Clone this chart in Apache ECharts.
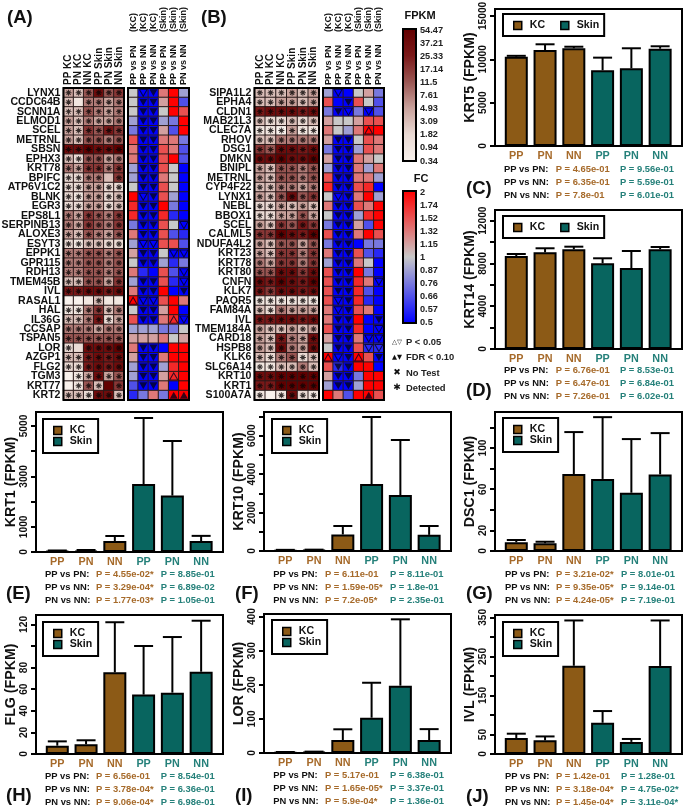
<!DOCTYPE html>
<html><head><meta charset="utf-8">
<style>html,body{margin:0;padding:0;background:#fff}#c{width:685px;height:808px}</style>
<script src="https://cdn.jsdelivr.net/npm/echarts@6/dist/echarts.min.js"></script>
</head><body><div id="c"></div>
<script>
// ---------- DATA ----------
const colsLeft = ['PP KC','PN KC','NN KC','PP Skin','PN Skin','NN Skin'];
const colsRight = ['PP vs PN','PP vs NN','PN vs NN','PP vs PN','PP vs NN','PN vs NN'];
const groupsRight = ['(KC)','(KC)','(KC)','(Skin)','(Skin)','(Skin)'];
const genesA = ['LYNX1','CCDC64B','SCNN1A','ELMOD1','SCEL','METRNL','SBSN','EPHX3','KRT78','BPIFC','ATP6V1C2','BLNK','EGR3','EPS8L1','SERPINB13','ALOXE3','ESYT3','EPPK1','GPR115','RDH13','TMEM45B','IVL','RASAL1','HAL','IL36G','CCSAP','TSPAN5','LOR','AZGP1','FLG2','TGM3','KRT77','KRT2'];
const genesB = ['SIPA1L2','EPHA4','CLDN1','MAB21L3','CLEC7A','RHOV','DSG1','DMKN','BNIPL','METRNL','CYP4F22','LYNX1','NEBL','BBOX1','SCEL','CALML5','NDUFA4L2','KRT23','KRT78','KRT80','CNFN','KLK7','PAQR5','FAM84A','IVL','TMEM184A','CARD18','HSPB8','KLK6','SLC6A14','KRT10','KRT1','S100A7A'];
// colour-bar positions: 0..10 = FPKM ticks, -5..5 = FC ticks
const fpkmA = [[4,3,6,9,6,7],[3,1,5,5,4,5],[3,3,6,5,4,5],[4,3,5,4,4,5],[4,3,7,6,8,7],[4,3,6,6,5,6],[9,9,10,9,9,10],[3,2,6,6,4,5],[5,4,7,7,5,7],[2,2,5,5,3,7],[2,2,4,4,2,2],[2,1,4,4,2,3],[2,2,4,4,2,3],[5,4,7,6,5,7],[5,4,7,6,5,7],[4,3,6,5,4,6],[2,1,3,3,2,2],[5,5,6,6,5,6],[5,5,6,6,5,6],[5,5,6,6,5,6],[3,3,6,6,4,7],[8,8,9,9,8,9],[0,0,1,3,1,1],[1,1,5,7,3,5],[3,3,5,8,2,4],[5,5,5,4,5,5],[6,6,6,6,6,6],[2,2,9,9,9,10],[3,3,8,9,8,9],[2,2,8,9,8,9],[0,1,4,9,4,6],[0,1,6,3,10,7],[3,3,2,9,9,3]];
const fcA = [[0,-5,-5,2,5,-1],[0,-5,-5,1,5,-3],[0,-5,-5,0,5,3],[-1,-5,-5,-1,-2,5],[-2,-5,-5,1,-3,5],[3,-5,-5,2,2,-2],[2,-5,-5,3,2,-3],[2,-5,-5,3,5,-3],[-1,-5,-5,3,0,-5],[-1,-5,-5,2,0,-5],[0,-5,-5,3,0,-5],[5,-5,-5,3,-1,-5],[4,-5,-5,5,-2,-5],[4,-5,-5,4,-4,-5],[-2,-5,-5,3,0,-5],[2,-5,-5,3,-3,-4],[-1,-5,-5,3,3,-3],[1,-5,-5,0,-5,-5],[0,-5,-5,-1,-4,-2],[2,-4,-5,3,-3,-5],[-1,-5,-5,3,-4,-5],[2,-5,-5,5,-5,-5],[5,-5,-5,3,5,2],[0,-5,-5,1,5,-5],[3,-5,-5,2,4,-5],[-1,-1,-1,-2,-2,0],[1,1,1,2,0,1],[2,-5,-5,-5,5,5],[1,-5,-5,2,5,5],[-1,-5,-5,-1,4,5],[-1,-5,-5,1,4,5],[-3,-5,-5,2,-5,5],[-4,-2,2,-2,5,5]];
const fpkmB = [[3,3,3,4,3,4],[3,3,4,4,3,4],[8,9,9,9,8,9],[3,2,2,3,2,3],[1,1,0,4,1,1],[3,3,5,5,5,5],[7,6,9,9,8,9],[9,9,10,9,9,10],[4,3,6,6,5,6],[4,3,6,6,5,6],[3,3,5,5,4,5],[4,3,6,9,6,7],[2,2,4,3,4,3],[2,2,4,4,6,4],[4,3,7,6,8,7],[7,7,10,9,8,10],[4,3,6,6,4,6],[4,3,7,7,5,7],[5,4,7,7,5,7],[6,6,9,9,7,9],[9,8,10,9,8,10],[8,7,9,9,8,9],[1,1,1,1,1,1],[3,2,5,4,4,4],[8,8,9,9,8,9],[4,3,3,4,3,4],[4,3,8,5,4,9],[4,3,9,5,4,9],[3,2,5,6,2,3],[1,1,3,3,5,3],[9,9,10,10,10,10],[8,8,10,10,10,10],[1,0,1,9,2,1]];
const fcB = [[-1,-5,-5,0,1,-2],[3,-5,-5,3,0,-3],[-2,-5,-5,-2,-5,-3],[1,0,0,1,3,3],[2,0,-1,2,5,5],[1,-5,-5,0,3,2],[-2,-5,-5,-1,3,2],[1,-5,-5,2,1,0],[-1,-5,-5,2,-1,2],[3,-5,-5,2,2,-1],[4,-5,-5,3,4,-5],[0,-5,-5,2,5,-1],[2,-5,-5,3,2,5],[0,-5,-5,-1,4,5],[-2,-5,-5,1,-3,5],[3,-5,-5,2,5,3],[-2,-5,-5,-5,-2,-2],[2,-5,-5,3,-3,-4],[-1,-5,-5,2,0,-5],[3,-5,-5,5,-2,-5],[3,-5,-5,4,2,-5],[3,-5,-5,4,-3,-5],[3,-5,-5,4,-4,-5],[2,-5,-5,3,2,-5],[2,-5,-5,5,-5,-5],[3,-5,-5,4,-5,-5],[1,-5,-5,2,-5,-5],[0,-5,-5,3,-4,-4],[5,-5,-5,5,3,-5],[3,-4,-5,5,5,-5],[1,-5,-5,-2,5,5],[-1,-5,-5,-1,5,5],[5,2,-3,5,5,3]];
// D filled down, d open down, U filled up, u open up
const sigA = ['.dD...','.DD...','.DD...','.DD...','.DD...','.DD...','.DD...','.DD...','.DD...','.DD...','.DD...','.dD...','.DD...','.DD...','.DD..d','.DD...','.dd...','.DD.dd','.DD...','.....d','.DD..d','.DD..D','udd...','.DD...','.DD.ud','......','......','.DD...','.DD...','.DD...','.DD.u.','.DD...','....UU'];
const sigB = ['.d....','..D...','.Dd.d.','......','....u.','.DD...','.DD...','.DD...','.DD...','.DD...','.DD...','.dD...','.DD...','.DD...','.DD...','.DD...','.DD...','.DD...','.DD...','.DD...','.DD..d','.DD...','.dD...','.dD...','.DD..D','.DD..d','.DD.dd','.DD.dd','udDu.D','.DD...','.DD...','.DD...','....U.'];
const notDetectedA = [[1,1],[9,4],[22,0],[22,1],[22,2],[22,4],[22,5],[27,1],[30,0],[31,0],[31,4]];
const notDetectedB = [[32,1]];
const fpkmTicks = ['0.34','0.94','1.82','3.09','4.93','7.61','11.5','17.14','25.33','37.21','54.47'];
const fcTicks = ['0.5','0.57','0.66','0.76','0.87','1','1.15','1.32','1.52','1.74','2'];
const barCats = ['PP','PN','NN','PP','PN','NN'];
const krt5 = [10300,11070,11270,8730,8960,11220], krt5Err = [10400,11730,11450,10190,11270,11500];
const krt14 = [8700,9045,9326,8016,7577,9326], krt14Err = [8886,9420,9570,8483,9167,9540];
const krt1 = [30,40,437,2698,2238,437], krt1Err = [60,80,635,5317,4405,640];
const krt10 = [30,40,860,3486,2913,840], krt10Err = [60,70,1300,6972,5775,1300];
const dsc1 = [8.4,7.5,74.8,70,56.6,74.4], dsc1Err = [10.7,9,115.5,130,108.7,114.5];
const flg = [7.7,9,75.6,55,56.8,76.2], flgErr = [11.7,12.7,122,100,108.3,123.4];
const lor = [2,3,38,103.5,197.5,38], lorErr = [3,4,69.5,206,392,70];
const ivl = [41,35,226,80,31,225.6], ivlErr = [52,45,342,110,38.5,342];
const pKrt5 = [['4.65e-01','9.56e-01'],['6.35e-01','5.59e-01'],['7.8e-01','6.01e-01']];
const pKrt14 = [['6.76e-01','8.53e-01'],['6.47e-01','6.84e-01'],['7.26e-01','6.02e-01']];
const pKrt1 = [['4.55e-02*','8.85e-01'],['3.29e-04*','6.89e-02'],['1.77e-03*','1.05e-01']];
const pKrt10 = [['6.11e-01','8.11e-01'],['1.59e-05*','1.8e-01'],['7.2e-05*','2.35e-01']];
const pDsc1 = [['3.21e-02*','8.01e-01'],['9.35e-05*','9.14e-01'],['4.24e-05*','7.19e-01']];
const pFlg = [['6.56e-01','8.54e-01'],['3.78e-04*','6.36e-01'],['9.06e-04*','6.98e-01']];
const pLor = [['5.17e-01','6.38e-01'],['1.65e-05*','3.37e-01'],['5.9e-04*','1.36e-01']];
const pIvl = [['1.42e-01','1.28e-01'],['3.18e-04*','4.75e-02*'],['1.45e-04*','3.11e-04*']];
const compLabels = ['PP vs PN:','PP vs NN:','PN vs NN:'];

// ---------- STYLE / LAYOUT ----------
const FONT = '"Liberation Sans", Arial, sans-serif';
const KC = '#8c5a16', SKIN = '#08655f', KCT = '#a66a2a', SKINT = '#25807a';
const ASTER = 'path://M4.2 0h1.6v10h-1.6z M0 4.2h10v1.6h-10z M1 2.1l1.1-1.1 6.9 6.9 -1.1 1.1z M7.9 1l1.1 1.1 -6.9 6.9 -1.1-1.1z';

const grid=[], xAxis=[], yAxis=[], series=[], legend=[], graphic=[];
const vmFpkm=[], vmFc=[];

function addText(t,x,y,fill,size,extra){
  graphic.push({type:'text',silent:true,z:20,style:Object.assign({text:t,x,y,fill,font:'bold '+size+'px '+FONT,textVerticalAlign:'middle',textAlign:'left'},extra||{})});
}
function vText(t,x,y,size){
  graphic.push({type:'text',silent:true,z:20,x,y,rotation:Math.PI/2,style:{text:t,x:0,y:0,fill:'#111',font:'bold '+size+'px '+FONT,textVerticalAlign:'middle',textAlign:'left'}});
}
function addHeat(l,w,cols,rows,mat,vmList,labelSize,groups){
  const g=grid.length;
  grid.push({left:l,top:88,width:w,height:312,show:true,borderColor:'#000',borderWidth:2,z:5,backgroundColor:'transparent',outerBoundsMode:'none'});
  xAxis.push({gridIndex:g,type:'category',position:'top',data:cols,axisLine:{show:false},axisTick:{show:false},axisLabel:{show:false}});
  yAxis.push({gridIndex:g,type:'category',inverse:true,data:rows,axisLine:{show:false},axisTick:{show:false},
    axisLabel:{show:vmList===vmFpkm,interval:0,margin:3,fontSize:10.6,fontWeight:'bold',color:'#111',fontFamily:FONT}});
  cols.forEach((c,j)=>{
    const cx=l+w*(j+0.5)/cols.length;
    vText(c,cx,85,labelSize);
    if(groups)vText(groups[j],cx,32,labelSize);
  });
  const data=[];
  mat.forEach((r,i)=>r.forEach((v,j)=>data.push([j,i,v])));
  vmList.push(series.length);
  series.push({type:'heatmap',xAxisIndex:g,yAxisIndex:g,data,itemStyle:{borderColor:'#2a1a1a',borderWidth:1},silent:true});
  return g;
}
function addStars(g,mat,missing){
  const miss=new Set(missing.map(m=>m[0]+'_'+m[1]));
  const data=[];
  mat.forEach((r,i)=>r.forEach((v,j)=>{if(!miss.has(i+'_'+j))data.push([j,i]);}));
  series.push({type:'scatter',xAxisIndex:g,yAxisIndex:g,data,symbol:ASTER,symbolSize:6,itemStyle:{color:'#0a0505'},z:6,silent:true});
}
function addSig(g,sig){
  const kinds={D:[180,true],d:[180,false],U:[0,true],u:[0,false]};
  Object.keys(kinds).forEach(k=>{
    const data=[];
    sig.forEach((s,i)=>[...s].forEach((c,j)=>{if(c===k)data.push([j,i]);}));
    if(!data.length)return;
    const [rot,filled]=kinds[k];
    series.push({type:'scatter',xAxisIndex:g,yAxisIndex:g,data,symbol:'triangle',symbolSize:[8,7],symbolRotate:rot,z:6,silent:true,
      itemStyle:filled?{color:'#05051a'}:{color:'transparent',borderColor:'#05051a',borderWidth:1}});
  });
}
addStars(addHeat(63.5,60.5,colsLeft,genesA,fpkmA,vmFpkm,10),fpkmA,notDetectedA);
addSig(addHeat(128,61,colsRight,genesA,fcA,vmFc,9,groupsRight),sigA);
addStars(addHeat(254.5,64.5,colsLeft,genesB,fpkmB,vmFpkm,10),fpkmB,notDetectedB);
addSig(addHeat(323,61,colsRight,genesB,fcB,vmFc,9,groupsRight),sigB);

function addColorTicks(top,h,ticks){
  const g=grid.length;
  grid.push({left:403,top,width:13,height:h,outerBoundsMode:'none'});
  xAxis.push({gridIndex:g,type:'value',show:false});
  yAxis.push({gridIndex:g,type:'category',position:'right',boundaryGap:false,data:ticks,axisLine:{show:false},
    axisTick:{length:3,alignWithLabel:true,interval:0,lineStyle:{color:'#000',width:1.5}},
    axisLabel:{interval:0,margin:4,fontSize:9.2,fontWeight:'bold',color:'#222',fontFamily:FONT}});
}
addColorTicks(30,131,fpkmTicks);
addColorTicks(192.5,130,fcTicks);

function addBars(o){
  const g=grid.length;
  grid.push({left:o.l,top:o.t,width:187,height:o.h,show:true,borderColor:'#000',borderWidth:2,backgroundColor:'transparent',outerBoundsMode:'none'});
  xAxis.push({gridIndex:g,type:'value',min:-0.74,max:5.76,splitLine:{show:false},axisTick:{show:false},
    axisLine:{onZero:false,lineStyle:{color:'#000',width:2}},
    axisLabel:{customValues:[0,1,2,3,4,5],margin:5,
      formatter:v=>'{'+(v<3?'kc':'sk')+'|'+barCats[v]+'}',
      rich:{kc:{color:KCT,fontSize:10.8,fontWeight:'bold',fontFamily:FONT},sk:{color:SKINT,fontSize:10.8,fontWeight:'bold',fontFamily:FONT}}}});
  yAxis.push({gridIndex:g,type:'value',min:0,max:o.max,splitLine:{show:false},
    name:o.name,nameLocation:'middle',nameGap:o.gap||17,nameRotate:90,
    nameTextStyle:{fontSize:14.2,fontWeight:'bold',color:'#111',fontFamily:FONT},
    axisLine:{show:true,onZero:false,lineStyle:{color:'#000',width:2}},
    axisTick:{show:true,length:5,customValues:o.ticks,lineStyle:{color:'#000',width:2}},
    axisLabel:{rotate:90,margin:7,customValues:o.labels,fontSize:10.2,fontWeight:'bold',color:'#111',fontFamily:FONT,formatter:v=>String(v)}});
  const xs=[0,1,2,3,4,5];
  const pick=(arr,fn)=>xs.filter(fn).map(i=>[i,arr[i]]);
  const bs={type:'bar',xAxisIndex:g,yAxisIndex:g,barWidth:23,barGap:'-100%',silent:true};
  series.push(Object.assign({},bs,{name:'KC',data:pick(o.v,i=>i<3),itemStyle:{color:KC,borderColor:'#000',borderWidth:2}}));
  series.push(Object.assign({},bs,{name:'Skin',data:pick(o.v,i=>i>=3),itemStyle:{color:SKIN,borderColor:'#000',borderWidth:2}}));
  series.push({type:'custom',name:'err',xAxisIndex:g,yAxisIndex:g,silent:true,z:1,
    data:xs.map(i=>[i,o.e[i],o.v[i]]),encode:{x:0,y:[1,2]},
    renderItem:(p,api)=>{
      const x=api.value(0),a=api.coord([x,api.value(1)]),b=api.coord([x,api.value(2)]);
      const st={stroke:'#000',lineWidth:2,fill:null};
      return {type:'group',children:[
        {type:'line',shape:{x1:a[0],y1:a[1],x2:b[0],y2:b[1]},style:st},
        {type:'line',shape:{x1:a[0]-9.5,y1:a[1],x2:a[0]+9.5,y2:a[1]},style:st}]};
    }});
  legend.push(Object.assign({data:['KC','Skin'],selectedMode:false,icon:'rect',itemWidth:8,itemHeight:8,
    borderColor:'#000',borderWidth:2,backgroundColor:'#fff',
    itemStyle:{borderColor:'#000',borderWidth:1.5},
    textStyle:{fontSize:10.6,fontWeight:'bold',color:'#111',fontFamily:FONT,padding:[0,0,0,3]}},o.legend));
  o.p.forEach((row,i)=>{
    const y=o.py+i*13;
    addText(compLabels[i],o.px[0],y,'#111',9.4);
    addText('P = '+row[0],o.px[1],y,KCT,9.4);
    addText('P = '+row[1],o.px[2],y,SKINT,9.4);
  });
  addText(o.tag,o.tagX,o.tagY,'#111',18.5);
}
const hLegend=(l,t)=>({orient:'horizontal',left:l,top:t,itemGap:15,padding:[6,5,5,10]});
const vLegend=(l,t)=>({orient:'vertical',left:l,top:t,itemGap:0,padding:[6,6,6,10]});
const pxA=[45,96,160.7], pxB=[273.3,325,390], pxC=[505,556,621];

addBars({l:495,t:9,h:137,max:15800,name:'KRT5 (FPKM)',ticks:[0,5000,10000,15000],labels:[0,5000,10000,15000],v:krt5,e:krt5Err,p:pKrt5,px:[504,555.7,620],py:169,tag:'(C)',tagX:466,tagY:189,legend:hLegend(503,14)});
addBars({l:495,t:210,h:139,max:13000,name:'KRT14 (FPKM)',ticks:[0,2000,4000,6000,8000,10000,12000],labels:[0,4000,8000,12000],v:krt14,e:krt14Err,p:pKrt14,px:[504,555.7,620],py:370.7,tag:'(D)',tagX:466,tagY:391,legend:hLegend(503,216)});
addBars({l:36,t:412,h:140,max:5556,name:'KRT1 (FPKM)',ticks:[0,1000,2000,3000,4000,5000],labels:[0,1000,3000,5000],v:krt1,e:krt1Err,p:pKrt1,px:pxA,py:574,tag:'(E)',tagX:6,tagY:594,legend:vLegend(43,419)});
addBars({l:264,t:412,h:139,max:7233,name:'KRT10 (FPKM)',ticks:[0,1000,2000,3000,4000,5000,6000,7000],labels:[0,2000,4000,6000],v:krt10,e:krt10Err,p:pKrt10,px:pxB,py:574,tag:'(F)',tagX:235,tagY:594,legend:vLegend(272,419)});
addBars({l:495,t:412,h:139,max:135,name:'DSC1 (FPKM)',ticks:[0,20,40,60,80,100,120],labels:[0,20,60,100],v:dsc1,e:dsc1Err,p:pDsc1,px:pxC,py:574,tag:'(G)',tagX:466,tagY:594,legend:vLegend(503,418)});
addBars({l:36,t:615,h:139,max:128.7,name:'FLG (FPKM)',ticks:[0,20,40,60,80,100,120],labels:[0,20,40,60,80,120],v:flg,e:flgErr,p:pFlg,px:pxA,py:776.3,tag:'(H)',tagX:6,tagY:796,legend:vLegend(43,622)});
addBars({l:264,t:614,h:139,max:407.6,name:'LOR (FPKM)',ticks:[0,100,200,300,400],labels:[0,100,200,300,400],v:lor,e:lorErr,p:pLor,px:pxB,py:775.7,tag:'(I)',tagX:235,tagY:796,legend:vLegend(272,620)});
addBars({l:495,t:615,h:139,max:356,name:'IVL (FPKM)',ticks:[0,50,100,150,200,250,300,350],labels:[0,50,150,250,350],v:ivl,e:ivlErr,p:pIvl,px:pxC,py:776,tag:'(J)',tagX:466,tagY:797,legend:vLegend(503,622)});

addText('(A)',7,18,'#111',18.5);
addText('(B)',201,18,'#111',18.5);
addText('FPKM',420,16,'#111',11,{textAlign:'center'});
addText('FC',421,179,'#111',11,{textAlign:'center'});
const keyRows=[['△▽','P < 0.05',342.7],['▲▼','FDR < 0.10',357.7],['✖','No Test',373],['✱','Detected',388]];
keyRows.forEach(k=>{
  graphic.push({type:'text',silent:true,style:{text:k[0],x:397,y:k[2],fill:'#111',font:(k[0].length>1?'6.5':'9')+'px "DejaVu Sans"',textAlign:'center',textVerticalAlign:'middle'}});
  addText(k[1],406,k[2],'#222',9.4);
});
[[403,29],[403,191]].forEach(p=>graphic.push({type:'rect',silent:true,z:19,shape:{x:p[0],y:p[1],width:13,height:132},style:{fill:null,stroke:'#000',lineWidth:2}}));

const chart=echarts.init(document.getElementById('c'),null,{renderer:'canvas',width:685,height:808});
chart.setOption({
  animation:false,backgroundColor:'#fff',textStyle:{fontFamily:FONT},
  grid,xAxis,yAxis,series,legend,graphic,
  visualMap:[
    {type:'continuous',seriesIndex:vmFpkm,min:0,max:10,left:403,top:29,itemWidth:13,itemHeight:132,padding:0,calculable:false,hoverLink:false,text:null,
     showLabel:false,
     inRange:{color:['#f8f1ec','#eadad4','#c9a29c','#9a5653','#7a1818','#630000']}},
    {type:'continuous',seriesIndex:vmFc,min:-5,max:5,left:403,top:191,itemWidth:13,itemHeight:132,padding:0,calculable:false,hoverLink:false,text:null,
     showLabel:false,
     inRange:{color:['#0000ff','#c8c8c8','#ff0000']}}
  ]
});
</script></body></html>
